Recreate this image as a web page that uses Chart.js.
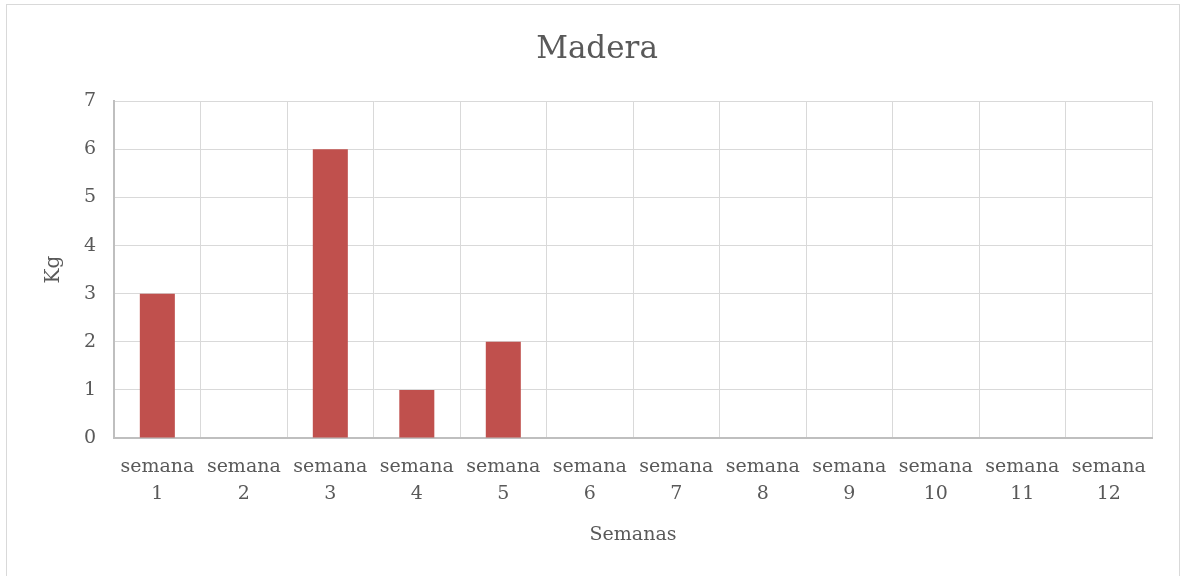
<!DOCTYPE html>
<html>
<head>
<meta charset="utf-8">
<script src="https://cdn.jsdelivr.net/npm/chart.js@4"></script>
<style>
  body { margin: 0; background: #fff; }
  #frame { position: absolute; left: 6px; top: 4px; width: 1174px; height: 575px; border: 1px solid #d9d9d9; box-sizing: border-box; }
  #wrap { position: absolute; left: 0; top: 0; width: 1181px; height: 576px; }
</style>
</head>
<body>
<div id="frame"></div>
<div id="wrap"><canvas id="madera"></canvas></div>
<script>
const semanas = [['semana', '1'], ['semana', '2'], ['semana', '3'], ['semana', '4'], ['semana', '5'], ['semana', '6'],
                 ['semana', '7'], ['semana', '8'], ['semana', '9'], ['semana', '10'], ['semana', '11'], ['semana', '12']]
const kilos = [3, 0, 6, 1, 2, 0, 0, 0, 0, 0, 0, 0]
const yTicks = [0, 1, 2, 3, 4, 5, 6, 7]

const serif = "'DejaVu Serif', serif"
const gray = '#595959'

const maderaData = {
    labels: semanas,
    datasets: [
        {
            label: 'Madera',
            backgroundColor: '#c0504d',
            borderWidth: 0,
            barPercentage: 0.405,
            categoryPercentage: 1,
            data: kilos
        }
    ]
};

// Configuración del gráfico
const maderaChart = {
    type: 'bar',
    data: maderaData,
    options: {
        responsive: true,
        maintainAspectRatio: false,
        animation: false,
        layout: { padding: { left: 42, right: 29, top: 14, bottom: 30 } },
        plugins: {
            legend: { display: false },
            tooltip: { enabled: false },
            title: {
                display: true,
                text: 'Madera',
                color: gray,
                font: { family: serif, size: 31, weight: 'normal' },
                padding: { top: 17, bottom: 33 }
            }
        },
        scales: {
            x: {
                grid: { color: '#d9d9d9', lineWidth: 1, offset: true, drawTicks: false },
                border: { color: '#bfbfbf', width: 2 },
                ticks: { color: gray, font: { family: serif, size: 19, lineHeight: 1.45 }, maxRotation: 0, autoSkip: false, padding: 15 },
                title: { display: true, text: 'Semanas', color: gray, font: { family: serif, size: 19 }, padding: { top: 0, bottom: 0 } }
            },
            y: {
                min: 0,
                max: 7,
                afterBuildTicks: axis => { axis.ticks = yTicks.map(v => ({ value: v })) },
                grid: { color: '#d9d9d9', lineWidth: 1, drawTicks: false },
                border: { color: '#bfbfbf', width: 2 },
                ticks: { color: gray, font: { family: serif, size: 19 }, padding: 18 },
                title: { display: true, text: 'Kg', color: gray, font: { family: serif, size: 20 }, padding: { top: 0, bottom: 0 } }
            }
        }
    }
};

const ctx = document.getElementById('madera').getContext('2d');
new Chart(ctx, maderaChart);
</script>
</body>
</html>
